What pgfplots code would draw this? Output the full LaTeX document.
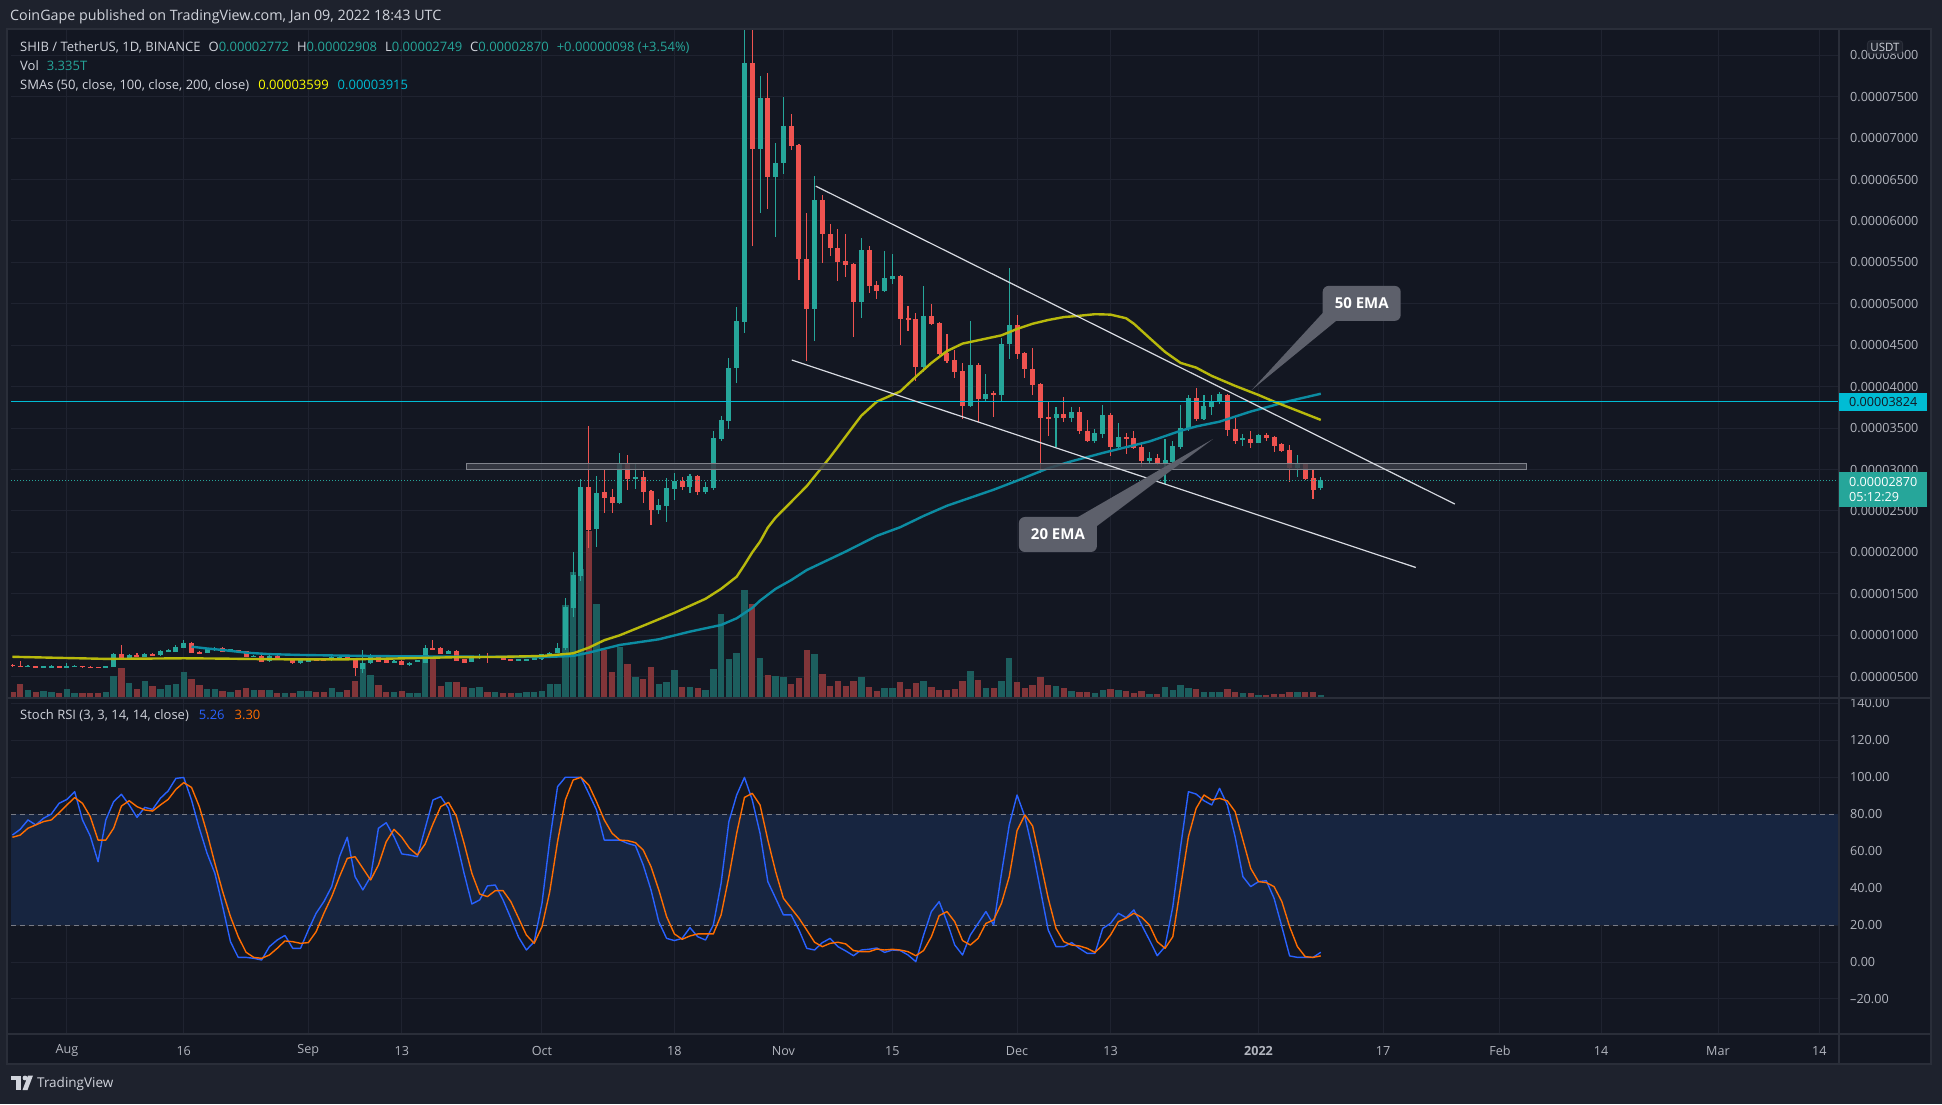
\documentclass[border=0pt]{standalone}
\usepackage{fontspec}
\setmainfont{Open Sans}
\usepackage{pgfplots}
\usepackage{pgfplotstable}
\pgfplotsset{compat=1.18}

\definecolor{bgout}{HTML}{1E222D}
\definecolor{bgpane}{HTML}{131722}
\definecolor{border}{HTML}{2A2E39}
\definecolor{gridc}{HTML}{1F2330}
\definecolor{upc}{HTML}{26A69A}
\definecolor{dnc}{HTML}{EF5350}
\definecolor{vup}{HTML}{1C5E5E}
\definecolor{vdn}{HTML}{813539}
\definecolor{sma50}{RGB}{184,185,12}
\definecolor{sma100}{RGB}{12,140,162}
\definecolor{cyanl}{HTML}{00BCD4}
\definecolor{txt}{HTML}{D1D4DC}
\definecolor{tickc}{HTML}{B2B5BE}
\definecolor{kblue}{HTML}{2962FF}
\definecolor{dorange}{HTML}{FF6D00}
\definecolor{rsiband}{HTML}{172540}
\definecolor{dashc}{HTML}{787B86}
\definecolor{callout}{HTML}{5D606B}
\definecolor{bandfill}{HTML}{3A3D47}
\definecolor{bandedge}{HTML}{80838C}
\definecolor{trend}{HTML}{D8DBE2}
\definecolor{yel}{HTML}{FFFF00}

\pgfplotstableread[row sep=\\]{
d o h l c v\\
-5 620 636 614 628 8.3\\
-3 616 634 612 628 7\\
-2 617 641 613 628 6.3\\
0 617 661 612 628 9\\
1 619 636 614 630 5.3\\
5 612 632 608 628 6.3\\
6 621 780 615 774 22.3\\
8 717 778 705 758 15.3\\
10 742 785 735 778 17.3\\
12 758 820 750 814 9.3\\
13 808 830 800 822 13.3\\
14 802 880 795 862 14.3\\
15 850 943 842 910 26.3\\
18 790 850 782 842 9.3\\
19 822 858 815 850 9.3\\
21 802 838 795 830 6.3\\
24 742 762 735 754 8.3\\
26 689 758 680 750 8.3\\
28 709 728 705 721 5.3\\
30 661 703 655 697 7.3\\
31 677 725 672 717 7.3\\
34 701 748 695 742 10.3\\
35 733 750 728 742 6.3\\
38 597 822 540 665 35.3\\
39 661 774 655 742 23.3\\
42 669 700 665 693 6.3\\
44 637 676 632 669 5.3\\
45 681 705 676 697 5.3\\
46 669 882 662 842 42.3\\
49 774 822 768 814 16.3\\
52 677 740 672 733 10.3\\
53 721 770 716 754 11.3\\
55 725 750 720 742 6.3\\
58 693 715 688 709 5.3\\
59 693 715 688 709 6.3\\
60 701 728 696 721 6.3\\
61 710 778 705 770 7\\
62 765 800 760 790 14\\
63 790 903 780 850 14\\
64 842 1450 820 1345 93\\
65 1325 2008 1220 1727 126\\
66 1715 2886 1650 2793 129\\
68 2286 2918 2061 2721 94\\
71 2596 3200 2580 3070 51\\
73 2886 3070 2760 2910 20.7\\
76 2516 2650 2460 2572 14.3\\
77 2564 2894 2370 2777 16.3\\
78 2765 2958 2636 2862 28.3\\
80 2793 2950 2720 2918 11.3\\
82 2733 2850 2700 2789 8.3\\
83 2781 3460 2753 3380 29.3\\
84 3373 3650 3340 3598 84.3\\
85 3589 4352 3490 4223 39.3\\
86 4223 4956 4050 4792 45.3\\
87 4783 8700 4654 7909 108.3\\
89 6874 7749 6098 7486 40.3\\
91 6525 6947 5809 6702 22.3\\
92 6697 7495 6572 7146 21.3\\
96 4934 6542 4546 6249 44.3\\
102 5020 5796 4835 5645 21.3\\
105 5150 5632 5140 5313 10.3\\
106 5305 5602 5236 5339 10.3\\
110 4236 5214 4180 4857 17.3\\
116 3770 4792 3760 4262 27.3\\
118 3856 4158 3813 3912 10.3\\
120 3899 4589 3822 4516 17.3\\
121 4516 5430 4339 4740 40.3\\
127 3619 3749 3274 3671 12.3\\
129 3619 3749 3576 3697 7.3\\
132 3339 3486 3320 3438 5.3\\
133 3434 3779 3380 3662 8.3\\
135 3274 3563 3250 3391 8.3\\
139 3102 3210 3080 3145 4.3\\
141 3080 3373 2822 3115 11.3\\
142 3093 3340 3080 3287 8.3\\
143 3274 3779 3250 3503 13.3\\
144 3490 3899 3460 3865 10.3\\
146 3611 3900 3600 3768 6.3\\
147 3760 3900 3659 3820 6.3\\
148 3816 3940 3790 3912 6.3\\
151 3357 3430 3290 3377 5.3\\
153 3325 3430 3320 3418 3.3\\
158 3023 3176 2915 3072 6.3\\
161 2772 2908 2749 2870 3.3\\
}\upt

\pgfplotstableread[row sep=\\]{
d o h l c v\\
-7 645 652 618 625 6.3\\
-6 630 690 615 620 14.3\\
-4 628 632 612 615 6.3\\
-1 628 632 610 615 5.3\\
2 630 634 611 616 5.3\\
3 620 624 608 612 5.3\\
4 616 619 606 610 5.3\\
7 774 882 700 709 30.3\\
9 762 780 738 742 9.3\\
11 774 790 752 758 12.3\\
16 910 922 780 790 19.3\\
17 800 812 775 782 13.3\\
20 850 858 796 802 7.3\\
22 818 826 796 802 8.3\\
23 810 815 735 742 10.3\\
25 754 760 672 681 8.3\\
27 750 756 710 717 5.3\\
29 713 720 655 661 5.3\\
32 713 720 690 697 6.3\\
33 709 715 688 693 6.3\\
36 750 758 703 709 8.3\\
37 721 730 508 601 17.3\\
40 733 740 675 681 13.3\\
41 709 715 662 669 6.3\\
43 693 698 635 641 7.3\\
47 842 943 820 830 40\\
48 846 855 768 774 12.3\\
50 810 816 686 693 16.3\\
51 709 715 662 669 11.3\\
54 754 790 669 721 6.3\\
56 730 736 696 701 5.3\\
57 709 714 688 693 5.3\\
67 2793 3530 2049 2270 167\\
69 2729 2990 2480 2660 48\\
70 2672 2760 2480 2600 25.7\\
72 3070 3170 2750 2890 34\\
74 2910 2980 2600 2733 19.3\\
75 2741 2753 2330 2516 31.3\\
79 2858 2910 2753 2793 11.3\\
81 2922 2930 2693 2733 10.3\\
88 7909 8600 5702 6874 94.3\\
90 7486 7792 6150 6525 23.3\\
93 7146 7292 6860 6909 14.3\\
94 6917 6930 5292 5538 20.3\\
95 5538 6098 4309 4934 48.3\\
97 6249 6314 5495 5848 24.3\\
98 5848 5960 5572 5680 12.3\\
99 5680 5904 5279 5507 17.3\\
100 5516 5839 5322 5464 12.3\\
101 5482 5490 4602 5020 17.3\\
103 5645 5701 5128 5214 11.3\\
104 5227 5279 5063 5150 7.3\\
107 5335 5345 4503 4818 16.3\\
108 4831 4977 4675 4813 9.3\\
109 4818 4891 4063 4236 15.3\\
111 4857 4999 4750 4762 11.3\\
112 4770 4780 4380 4395 8.3\\
113 4408 4632 4287 4309 8.3\\
114 4322 4438 4106 4180 9.3\\
115 4188 4288 3606 3770 17.3\\
117 4266 4288 3576 3856 18.3\\
119 3921 3942 3632 3899 10.3\\
122 4740 4869 4339 4395 16.3\\
123 4408 4420 4106 4210 10.3\\
124 4210 4468 3899 4020 13.3\\
125 4029 4050 2960 3628 21.3\\
126 3632 3822 3404 3619 13.3\\
128 3671 3878 3576 3619 10.3\\
130 3697 3749 3430 3460 6.3\\
131 3468 3598 3330 3339 6.3\\
134 3662 3680 3158 3274 9.3\\
136 3391 3447 3188 3373 7.3\\
137 3382 3470 3250 3266 5.3\\
138 3274 3318 3029 3102 7.3\\
140 3136 3190 3060 3080 4.3\\
145 3865 3989 3580 3611 9.3\\
149 3900 3912 3410 3478 9.3\\
150 3486 3619 3309 3349 6.3\\
152 3369 3466 3265 3325 5.3\\
154 3422 3445 3350 3386 3.3\\
155 3398 3410 3217 3289 4.3\\
156 3309 3325 3217 3229 4.3\\
157 3237 3297 2854 3023 6.3\\
159 3072 3080 2870 2887 6.3\\
160 2903 2995 2645 2754 6.3\\
}\dnt

\pgfplotstableread[row sep=\\]{
d k dd\\
-7 68.7 67.5\\ -6 71.8 68.7\\ -5 76.9 72.4\\ -4 74.2 74.2\\ -3 77.8 76.0\\ -2 80.1 76.9\\ -1 85.9 80.8\\
0 88.0 85.0\\ 1 92.2 89.0\\ 2 76.9 85.9\\ 3 68.2 78.7\\ 4 54.3 66.0\\ 5 76.9 66.0\\ 6 86.8 72.4\\ 7 90.8 84.4\\
8 85.0 87.3\\ 9 78.3 84.1\\ 10 83.7 82.3\\ 11 82.6 81.7\\ 12 88.6 85.0\\ 13 92.6 88.0\\ 14 99.4 93.5\\ 15 99.9 97.1\\
16 87.7 94.5\\ 17 72.4 84.1\\ 18 58.8 69.7\\ 19 48.0 53.4\\ 20 30.0 38.1\\ 21 11.0 24.6\\ 22 2.5 13.7\\ 23 2.5 5.3\\
24 2.0 2.5\\ 25 1.1 2.0\\ 26 8.3 3.8\\ 27 11.9 7.4\\ 28 14.4 11.4\\ 29 7.4 11.0\\ 30 7.4 10.1\\ 31 17.3 10.5\\
32 26.4 16.4\\ 33 32.7 26.4\\ 34 40.8 35.4\\ 35 57.0 46.2\\ 36 67.5 56.1\\ 37 46.2 57.0\\ 38 39.0 50.7\\ 39 46.2 44.4\\
40 72.4 52.5\\ 41 75.4 65.1\\ 42 67.8 71.8\\ 43 58.5 67.5\\ 44 57.9 61.5\\ 45 57.0 57.9\\ 46 72.4 63.9\\ 47 87.7 74.7\\
48 89.5 84.1\\ 49 83.2 86.4\\ 50 66.0 79.0\\ 51 48.0 64.2\\ 52 31.4 48.0\\ 53 33.6 36.8\\ 54 41.2 35.4\\ 55 41.7 38.6\\
56 33.6 38.6\\ 57 23.7 32.7\\ 58 13.4 23.7\\ 59 6.5 14.6\\ 60 11.0 10.1\\ 61 31.8 19.1\\ 62 66.0 38.1\\ 63 94.9 65.1\\
64 100 87.7\\ 65 100 98.5\\ 66 100 100\\ 67 91.3 95.8\\ 68 82.3 86.8\\ 69 66.0 76.9\\ 70 66.0 69.7\\ 71 66.0 66.0\\
72 64.2 65.7\\ 73 63.0 64.6\\ 74 52.5 60.6\\ 75 39.0 51.6\\ 76 21.8 39.0\\ 77 12.8 24.6\\ 78 11.6 15.2\\ 79 12.8 12.3\\
80 18.6 14.1\\ 81 13.7 15.2\\ 82 11.9 15.2\\ 83 20.0 15.2\\ 84 42.6 25.5\\ 85 76.0 46.2\\ 86 90.4 69.7\\ 87 99.9 89.1\\
88 87.7 91.3\\ 89 69.7 85.0\\ 90 43.5 66.0\\ 91 34.5 48.9\\ 92 25.5 34.5\\ 93 25.5 29.1\\ 94 17.3 23.7\\ 95 7.4 17.3\\
96 6.5 10.7\\ 97 10.5 8.3\\ 98 12.8 10.1\\ 99 8.3 10.7\\ 100 6.0 9.8\\ 101 3.4 6.2\\ 102 6.5 5.6\\ 103 6.9 5.6\\
104 7.6 7.0\\ 105 5.2 6.5\\ 106 6.5 6.9\\ 107 6.2 6.5\\ 108 3.8 5.6\\ 109 0.2 3.4\\ 110 14.6 6.2\\ 111 27.3 13.7\\
112 32.7 25.1\\ 113 21.8 27.3\\ 114 9.2 21.8\\ 115 3.8 11.6\\ 116 14.6 9.2\\ 117 20.9 12.8\\ 118 27.3 20.9\\ 119 20.0 22.8\\
120 48.0 31.8\\ 121 74.2 46.2\\ 122 90.4 71.1\\ 123 78.7 79.6\\ 124 60.6 73.6\\ 125 39.0 54.3\\ 126 17.3 34.5\\ 127 8.3 18.2\\
128 8.3 11.0\\ 129 10.5 9.2\\ 130 7.4 8.7\\ 131 4.7 7.4\\ 132 4.7 5.2\\ 133 18.2 9.2\\ 134 20.9 14.6\\ 135 26.4 21.8\\
136 24.0 23.7\\ 137 28.2 26.4\\ 138 20.0 24.2\\ 139 11.9 20.0\\ 140 3.4 11.0\\ 141 8.3 7.4\\ 142 30.0 13.7\\ 143 62.4 40.8\\
144 92.2 67.8\\ 145 90.9 83.2\\ 146 87.3 90.4\\ 147 85.0 87.7\\ 148 94.0 88.6\\ 149 85.0 87.2\\ 150 67.8 81.4\\ 151 46.2 66.0\\
152 40.8 50.7\\ 153 43.5 43.5\\ 154 44.0 43.0\\ 155 34.5 40.8\\ 156 19.1 32.7\\ 157 3.3 19.1\\ 158 2.5 8.3\\ 159 2.5 2.9\\
160 2.5 2.5\\ 161 5.26 3.30\\
}\rsit

\pgfplotsset{
  cndl/.style 2 args={draw=none, mark=none, forget plot,
    error bars/.cd, y dir=both, y explicit, error mark=none,
    error bar style={draw=#1, line width=#2, solid}},
}
\newcommand{\fs}{\fontsize{12.6}{15}\selectfont}
\newcommand{\fl}{\fontsize{13}{15}\selectfont}

\begin{document}
\begin{tikzpicture}[x=1pt,y=1pt]
\fill[bgout] (0,0) rectangle (1942,1104);
\useasboundingbox (0,0) rectangle (1942,1104);
\fill[bgpane] (7,40) rectangle (1931,1075);

% ---------------- price pane ----------------
\begin{axis}[at={(11pt,406pt)}, anchor=south west, scale only axis,
  width=1828pt, height=669pt,
  xmin=-7.178, xmax=227.54, ymin=242.6, ymax=8317.4,
  axis line style={draw=none}, major tick length=0pt,
  xtick={0,15,31,43,61,78,92,106,122,134,153,169,184,197,212,225}, xticklabels={},
  ytick={500,1000,...,8000},
  yticklabels={0.00000500,0.00001000,0.00001500,0.00002000,0.00002500,0.00003000,0.00003500,0.00004000,0.00004500,0.00005000,0.00005500,0.00006000,0.00006500,0.00007000,0.00007500,0.00008000},
  yticklabel pos=right,
  yticklabel style={anchor=west, inner sep=0pt, xshift=11pt, font=\fs, text=tickc},
  grid=major, major grid style={draw=gridc, line width=1pt},
  clip=true]
% volume
\addplot[cndl={vup}{6.4pt}] table[x=d, y expr={242.6+6.035*\thisrow{v}}, y error expr={6.035*\thisrow{v}}] {\upt};
\addplot[cndl={vdn}{6.4pt}] table[x=d, y expr={242.6+6.035*\thisrow{v}}, y error expr={6.035*\thisrow{v}}] {\dnt};
% wicks
\addplot[cndl={upc}{1.1pt}] table[x=d, y expr={(\thisrow{h}+\thisrow{l})/2}, y error expr={(\thisrow{h}-\thisrow{l})/2}] {\upt};
\addplot[cndl={dnc}{1.1pt}] table[x=d, y expr={(\thisrow{h}+\thisrow{l})/2}, y error expr={(\thisrow{h}-\thisrow{l})/2}] {\dnt};
% bodies
\addplot[cndl={upc}{5pt}] table[x=d, y expr={(\thisrow{o}+\thisrow{c})/2}, y error expr={max(abs(\thisrow{c}-\thisrow{o})/2,6)}] {\upt};
\addplot[cndl={dnc}{5pt}] table[x=d, y expr={(\thisrow{o}+\thisrow{c})/2}, y error expr={max(abs(\thisrow{c}-\thisrow{o})/2,6)}] {\dnt};
% SMA 100 (blue)
\addplot[sma100, line width=2.4pt, line join=round] coordinates {
(16,862) (18,840) (20,822) (23,790) (26,772) (30,762) (35,755) (40,748) (45,745) (50,742) (55,740) (61,736)
(65,750) (67,790) (71,883) (76,951) (80,1044) (84,1124) (86,1205) (88,1330) (89,1418) (91,1560) (93,1666)
(95,1787) (100,2010) (104,2200) (107,2304) (110,2440) (113,2563) (116,2660) (119,2757) (122,2865) (126,3016)
(129,3100) (133,3200) (136,3270) (139,3339) (143,3468) (145,3520) (148,3578) (152,3700) (157,3828) (161,3915)};
% SMA 50 (yellow)
\addplot[sma50, line width=2.4pt, line join=round] coordinates {
(-7,740) (0,725) (5,715) (10,718) (15,722) (20,718) (25,712) (30,708) (35,708) (40,715) (45,725) (50,735)
(55,738) (61,750) (63,765) (65,782) (67,850) (69,940) (71,1000) (74,1115) (78,1270) (82,1440) (84,1560)
(86,1707) (87,1850) (88,2000) (89,2130) (90,2300) (91,2420) (93,2610) (95,2800) (98,3150) (100,3400)
(102,3650) (104,3820) (107,3943) (109,4120) (111,4287) (113,4430) (115,4520) (118,4580) (120,4620)
(122,4697) (124,4760) (126,4805) (128,4840) (130,4856) (132,4875) (134,4870) (136,4826) (137,4760)
(139,4589) (141,4420) (143,4287) (145,4230) (147,4130) (150,4010) (153,3900) (155,3820) (158,3710) (161,3599)};
% drawings
\addplot[fill=bandfill, draw=bandedge, line width=0.9pt, fill opacity=0.85] coordinates {(51.25,3003) (187.35,3003) (187.35,3075) (51.25,3075)} -- cycle;
\addplot[cyanl, line width=1.2pt] coordinates {(-7.178,3824) (227.54,3824)};
\addplot[upc, line width=1pt, dotted] coordinates {(-7.178,2870) (227.54,2870)};
\addplot[trend, line width=1.2pt] coordinates {(96.15,6421) (178.2,2584)};
\addplot[trend, line width=1.2pt] coordinates {(93.07,4322) (173.2,1818)};
\end{axis}

% ---------------- Stoch RSI pane ----------------
\begin{axis}[at={(11pt,70pt)}, anchor=south west, scale only axis,
  width=1828pt, height=336pt,
  xmin=-7.178, xmax=227.54, ymin=-38.97, ymax=142.9,
  axis line style={draw=none}, major tick length=0pt,
  xtick={0,15,31,43,61,78,92,106,122,134,153,169,184,197,212,225},
  xticklabels={Aug,16,Sep,13,Oct,18,Nov,15,Dec,13,\textbf{2022},17,Feb,14,Mar,14},
  xticklabel style={anchor=center, inner sep=0pt, yshift=-16.7pt, font=\fs, text=tickc},
  ytick={-20,0,...,140},
  yticklabels={–20.00,0.00,20.00,40.00,60.00,80.00,100.00,120.00,140.00},
  yticklabel pos=right,
  yticklabel style={anchor=west, inner sep=0pt, xshift=11pt, font=\fs, text=tickc},
  grid=major, major grid style={draw=gridc, line width=1pt},
  clip=true]
\addplot[fill=rsiband, draw=none] coordinates {(-7.178,20) (227.54,20) (227.54,80) (-7.178,80)} -- cycle;
\addplot[dashc, line width=1pt, dash pattern=on 5pt off 4pt] coordinates {(-7.178,80) (227.54,80)};
\addplot[dashc, line width=1pt, dash pattern=on 5pt off 4pt] coordinates {(-7.178,20) (227.54,20)};
\addplot[kblue, line width=1.4pt, line join=round] table[x=d, y=k] {\rsit};
\addplot[dorange, line width=1.4pt, line join=round] table[x=d, y=dd] {\rsit};
\end{axis}

% ---------------- frame ----------------
\draw[border, line width=1.2pt] (7,40) rectangle (1931,1075);
\draw[border, line width=1.2pt] (7,406) -- (1931,406);
\draw[border, line width=1.2pt] (7,70) -- (1931,70);
\draw[border, line width=1.2pt] (1839,40) -- (1839,1075);

% price scale labels
\node[fill=cyanl, minimum width=88pt, minimum height=18pt, inner sep=0pt, anchor=west, font=\fs, text=bgpane] at (1839,701.5) {0.00003824};
\node[fill=upc, minimum width=88pt, minimum height=35pt, inner sep=0pt, anchor=west, font=\fs, text=white, align=left] at (1839,614.8) {0.00002870\\05:12:29};
\node[fill=bgout, draw=border, line width=1pt, rounded corners=3pt, inner xsep=3pt, inner ysep=2pt, font=\fontsize{11.5}{13}\selectfont, text=txt] at (1885,1057) {USDT};

% legends
\node[anchor=west, inner sep=0pt, font=\fontsize{14.3}{16}\selectfont, text=txt] at (10,1087) {CoinGape published on TradingView.com, Jan 09, 2022 18:43 UTC};
\node[anchor=west, inner sep=0pt, font=\fl, text=txt] at (20,1056.7) {SHIB / TetherUS, 1D, BINANCE\hspace{8pt}O\textcolor{upc}{0.00002772}\hspace{8pt}H\textcolor{upc}{0.00002908}\hspace{8pt}L\textcolor{upc}{0.00002749}\hspace{8pt}C\textcolor{upc}{0.00002870}\hspace{8pt}\textcolor{upc}{+0.00000098 (+3.54\%)}};
\node[anchor=west, inner sep=0pt, font=\fl, text=txt] at (20,1038) {Vol\hspace{8pt}\textcolor{upc}{3.335T}};
\node[anchor=west, inner sep=0pt, font=\fl, text=txt] at (20,1018.7) {SMAs (50, close, 100, close, 200, close)\hspace{9pt}\textcolor{yel}{0.00003599}\hspace{9pt}\textcolor{cyanl}{0.00003915}};
\node[anchor=west, inner sep=0pt, font=\fl, text=txt] at (20,388) {Stoch RSI (3, 3, 14, 14, close)\hspace{10pt}\textcolor{kblue}{5.26}\hspace{10pt}\textcolor{dorange}{3.30}};

% callouts
\fill[callout] (1322.7,791) -- (1336,783) -- (1251.7,714) -- cycle;
\node[fill=callout, rounded corners=6pt, minimum width=78pt, minimum height=35pt, inner sep=0pt, text=white, font=\bfseries\fontsize{15}{17}\selectfont] at (1361.7,800.6) {50 EMA};
\fill[callout] (1078,587) -- (1097,578) -- (1213,665) -- cycle;
\node[fill=callout, rounded corners=6pt, minimum width=78pt, minimum height=35pt, inner sep=0pt, text=white, font=\bfseries\fontsize{15}{17}\selectfont] at (1057.9,569.5) {20 EMA};

% TradingView footer
\fill[txt] (11,24) rectangle (21,28.5);
\fill[txt] (16,14) rectangle (21,28.5);
\fill[txt] (25,26) circle (2.4);
\fill[txt] (22.5,14) -- (27.5,14) -- (33,28.5) -- (28,28.5) -- cycle;
\node[anchor=west, inner sep=0pt, font=\fontsize{13.5}{16}\selectfont, text=txt] at (37,20.5) {TradingView};
\end{tikzpicture}
\end{document}
